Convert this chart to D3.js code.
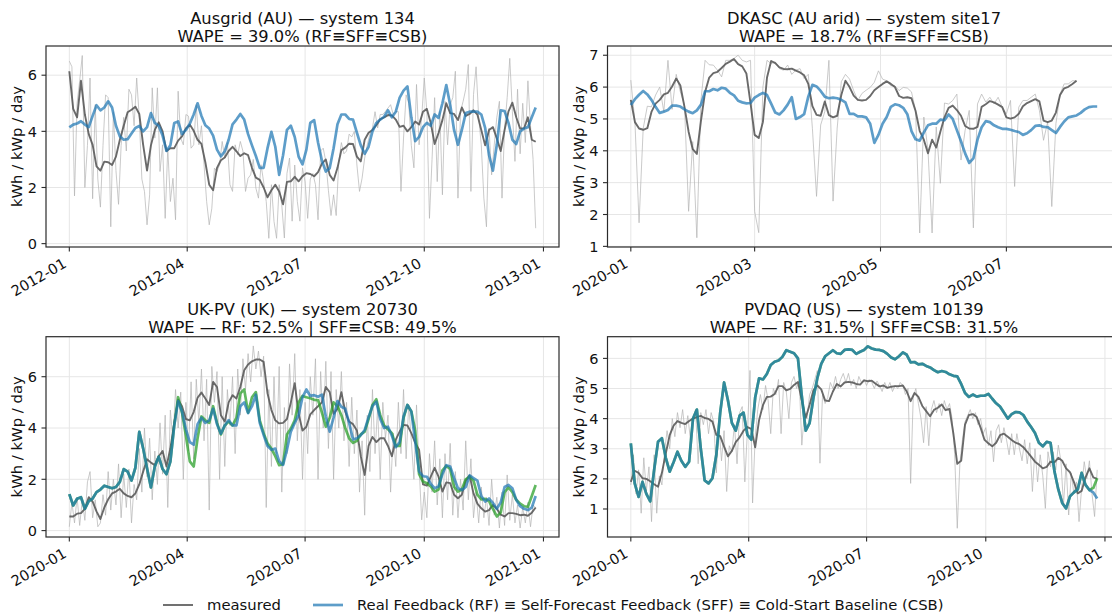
<!DOCTYPE html>
<html>
<head>
<meta charset="utf-8">
<script src="https://cdn.jsdelivr.net/npm/d3@7"></script>
<style>
  html, body { margin: 0; padding: 0; background: #fff; }
  svg { display: block; font-family: "DejaVu Sans", "Noto Sans", sans-serif; }
</style>
</head>
<body>
<svg id="chart" width="1112" height="616"></svg>
<script>
// ---------------------------------------------------------------
// Daily PV yield (kWh / kWp / day). Raw readings every 2 days,
// rolling-mean measured and forecasts every 3 days (DKASC: 2 days).
// ---------------------------------------------------------------

// Ausgrid (AU) — system 134, 2012
const ausgridStart = "2012-01-01";
const ausgridRaw = [
  6.5,6.3,1.7,5.0,5.8,6.7,2.0,3.5,5.9,1.6,
  4.95,2.3,1.3,3.5,5.3,5.2,0.6,4.7,2.6,1.4,
  3.5,4.5,3.3,5.5,5.3,4.2,5.9,4.5,2.3,1.86,
  0.67,1.74,5.55,3.76,5.55,2.57,3.52,0.9,3.4,1.5,
  2.33,0.85,5.43,3.76,3.52,4.6,4.54,3.4,3.52,4.95,
  3.52,4.2,2.81,1.5,0.67,1.26,2.69,2.57,2.81,3.64,
  3.05,3.6,2.1,1.86,3.52,3.17,3.64,3.3,1.86,2.33,
  2.45,3.0,1.98,1.62,2.81,2.2,1.5,0.19,2.1,0.79,
  0.19,2.1,1.38,0.2,2.5,3.05,0.8,2.8,1.5,0.8,
  2.7,2.2,0.9,2.3,2.5,2.1,0.85,3.3,3.4,2.93,
  1.9,1.0,1.74,1.0,2.9,3.6,3.2,3.3,3.9,3.8,
  4.0,2.8,1.86,2.33,3.05,3.52,3.9,4.12,4.7,4.12,
  4.6,4.6,4.71,4.83,4.95,4.6,4.71,4.7,1.86,3.76,
  5.3,5.0,3.5,2.7,5.67,3.52,4.5,5.9,4.71,0.9,
  3.0,5.2,2.21,4.71,1.74,5.07,3.52,4.95,5.2,6.14,
  1.62,4.71,5.07,5.5,6.38,1.86,5.31,6.3,4.5,3.52,
  1.62,0.6,4.12,2.45,3.52,4.5,5.07,1.62,4.12,5.2,
  6.6,4.71,2.93,5.5,3.2,5.0,3.6,5.8,4.2,3.0,
  0.55
];
const ausgridMeasured = [
  6.14,4.8,4.5,5.8,4.6,3.9,3.52,2.75,2.6,2.92,
  2.9,2.8,3.1,3.7,4.2,4.68,4.77,4.88,4.62,3.52,
  2.6,3.5,4.05,4.32,4.0,3.3,3.4,3.4,3.67,3.82,
  4.1,4.24,4.02,3.7,3.55,2.9,2.1,1.9,2.7,2.97,
  3.07,3.3,3.45,3.29,3.12,3.22,3.15,2.7,2.35,2.27,
  2.0,1.65,1.9,2.1,1.86,1.4,2.2,2.22,2.38,2.22,
  2.4,2.51,2.48,2.4,2.55,2.85,3.0,2.45,2.25,2.7,
  3.33,3.42,3.56,3.55,3.1,2.93,3.7,3.95,4.05,4.22,
  4.43,4.5,4.58,4.57,4.42,4.16,4.2,4.0,4.15,4.35,
  4.24,4.7,4.8,4.3,3.55,3.94,4.4,5.0,4.65,4.62,
  4.4,4.85,4.55,4.62,4.75,4.6,4.05,3.5,4.05,4.15,
  3.75,3.3,4.05,4.71,5.02,4.5,4.1,4.1,4.5,3.7,
  3.63
];
const ausgridForecast = [
  4.14,4.24,4.28,4.36,4.24,4.15,4.55,4.93,4.75,4.85,
  5.07,4.85,4.2,3.82,3.7,3.72,3.92,4.12,4.19,4.0,
  4.15,4.65,4.3,4.2,3.85,3.3,3.5,4.3,4.35,3.9,
  4.05,4.27,4.6,5.0,4.55,4.22,4.1,3.85,3.35,3.11,
  3.29,3.7,4.25,4.42,4.62,4.42,3.9,3.5,3.12,2.7,
  2.7,3.4,3.98,3.45,2.45,3.15,4.05,4.2,3.8,3.1,
  2.82,3.35,4.3,4.4,3.6,2.95,2.57,2.69,3.4,4.25,
  4.6,4.6,4.44,4.42,3.95,3.5,3.2,3.45,4.0,4.3,
  4.42,4.52,4.75,4.5,4.7,5.2,5.45,5.6,4.5,3.65,
  3.8,4.15,4.3,4.2,4.6,4.48,5.0,5.65,4.95,4.05,
  3.52,4.05,4.65,4.7,4.7,4.7,4.6,4.12,3.15,2.6,
  3.52,4.75,4.72,4.3,3.7,3.55,4.0,4.1,4.15,4.5,
  4.85
];
const ausgridXTicks = ["2012-01-01", "2012-04-01", "2012-07-01", "2012-10-01", "2013-01-01"];
const ausgridYTicks = [0, 2, 4, 6];

// DKASC (AU arid) — system site17, 2020
const dkascStart = "2020-01-01";
const dkascRaw = [
  6.22,4.9,1.74,4.7,5.4,5.38,5.75,6.0,5.23,6.84,
  5.3,6.4,5.85,5.44,2.1,4.29,1.27,5.6,6.84,6.7,
  6.69,6.53,6.32,6.84,6.84,6.9,7.0,6.84,6.79,6.84,
  2.1,1.43,6.0,6.84,6.74,6.79,6.58,6.53,6.69,6.4,
  6.53,6.58,6.27,6.4,4.7,2.57,4.81,5.23,6.84,2.42,
  4.71,6.17,6.4,6.25,5.89,5.58,5.8,5.9,5.99,6.15,
  6.51,6.25,6.2,6.04,6.04,5.89,5.99,5.97,5.85,5.27,
  1.42,5.06,4.02,1.42,4.75,2.98,5.5,5.47,5.58,5.78,
  3.71,4.64,5.27,1.58,5.47,5.78,5.53,5.68,5.47,5.68,
  5.37,5.16,5.58,2.88,5.37,5.58,5.58,5.68,5.78,5.27,
  4.33,4.9,2.25,4.85,5.78,6.1,6.1,6.2,6.2
];
const dkascMeasured = [
  5.6,4.9,4.7,4.66,4.71,5.22,5.48,5.6,5.77,5.82,
  6.02,6.27,6.05,5.38,4.6,4.05,3.9,4.95,5.85,6.3,
  6.44,6.48,6.6,6.73,6.8,6.88,6.72,6.65,6.43,5.5,
  4.5,4.4,4.9,6.3,6.82,6.75,6.62,6.57,6.56,6.58,
  6.52,6.46,6.37,6.1,5.4,5.13,5.1,5.55,5.12,5.05,
  5.1,5.75,6.2,6.0,5.73,5.6,5.58,5.6,5.72,5.9,
  6.0,6.1,6.18,6.1,6.0,5.72,5.66,5.68,5.65,5.25,
  4.62,4.35,3.92,4.35,4.1,4.6,5.05,5.35,5.42,5.28,
  5.1,4.78,4.7,4.69,4.75,5.38,5.46,5.56,5.52,5.45,
  5.37,5.05,5.01,5.05,5.16,5.4,5.5,5.56,5.62,5.55,
  4.95,4.9,4.95,5.2,5.75,5.96,6.01,6.1,6.2
];
const dkascForecast = [
  5.44,5.62,5.76,5.88,5.77,5.6,5.38,5.19,5.23,5.28,
  5.42,5.42,5.39,5.3,5.23,5.18,5.27,5.45,5.87,5.87,
  5.94,5.9,5.98,5.95,5.82,5.74,5.57,5.52,5.49,5.5,
  5.67,5.75,5.82,5.75,5.48,5.2,5.14,5.27,5.45,5.68,
  5.0,5.06,5.15,5.7,6.07,6.02,5.88,5.7,5.65,5.67,
  5.65,5.6,5.52,5.16,5.16,5.08,5.08,5.05,4.85,4.25,
  4.5,4.85,5.06,5.38,5.46,5.43,5.35,5.15,4.62,4.36,
  4.32,4.58,4.8,4.85,4.85,4.98,4.96,5.14,5.0,4.65,
  4.3,3.92,3.62,3.76,4.35,4.74,4.93,4.9,4.8,4.74,
  4.69,4.69,4.66,4.62,4.59,4.5,4.55,4.65,4.78,4.8,
  4.75,4.74,4.65,4.56,4.75,4.92,5.05,5.08,5.11,5.19,
  5.3,5.37,5.39,5.39
];
const dkascXTicks = ["2020-01-01", "2020-03-01", "2020-05-01", "2020-07-01"];
const dkascYTicks = [1, 2, 3, 4, 5, 6, 7];

// UK-PV (UK) — system 20730, 2020
const ukpvStart = "2020-01-01";
const ukpvRaw = [
  0.15,1.1,0.3,1.3,0.2,1.2,0.4,1.9,2.3,0.5,
  1.2,0.15,0.3,1.4,0.6,2.3,0.8,2.0,1.0,2.6,
  0.5,2.2,0.9,2.4,0.3,1.8,1.2,3.2,1.5,4.0,
  2.1,3.6,1.2,3.1,1.8,4.2,2.2,4.5,0.9,4.7,
  3.5,5.5,4.0,5.4,2.0,5.0,3.1,5.8,2.8,5.9,
  4.2,6.3,3.5,5.9,0.8,6.4,5.0,6.2,2.0,6.0,
  2.5,5.5,4.1,6.0,3.0,6.3,4.5,6.7,5.5,6.9,
  5.8,7.2,6.3,7.0,6.0,6.8,0.9,5.5,2.5,6.0,
  3.0,6.4,1.5,4.8,3.0,6.5,4.5,6.9,3.5,5.5,
  2.0,5.0,3.0,6.0,4.5,6.7,2.0,6.2,4.0,6.6,
  3.2,6.2,2.0,5.5,4.0,6.2,3.5,5.0,2.5,5.2,
  3.0,4.7,1.5,3.5,0.6,4.5,2.3,5.5,3.0,4.8,
  2.0,5.0,3.6,4.5,1.5,3.8,2.5,5.0,3.0,5.5,
  2.8,4.9,3.5,2.0,4.9,2.5,0.42,1.5,0.5,3.0,
  1.5,3.5,1.0,2.8,0.5,3.0,1.2,3.4,0.6,2.3,
  0.5,2.0,0.8,3.5,1.2,2.8,0.5,1.5,0.3,1.7,
  0.5,1.3,0.2,2.0,0.6,1.3,0.1,1.5,0.2,2.17,
  0.4,1.4,0.3,1.0,0.1,0.9,0.3,1.1,0.15,1.0,
  0.9
];
const ukpvMeasured = [
  0.55,0.55,0.66,0.68,0.85,1.3,1.13,0.75,0.45,0.9,
  1.22,1.45,1.52,1.63,1.45,1.35,1.3,1.45,1.8,2.3,
  2.78,2.65,2.55,2.9,3.1,2.5,3.2,4.2,5.1,4.85,
  4.35,4.3,4.62,5.18,5.38,5.15,4.9,5.8,5.6,4.5,
  4.25,5.0,5.28,5.15,5.6,6.25,6.48,6.6,6.67,6.67,
  6.58,5.35,4.7,4.3,4.18,4.2,4.35,5.0,5.75,4.55,
  3.9,4.05,4.53,4.7,4.85,5.0,5.6,5.4,4.55,4.75,
  5.4,4.64,4.25,4.15,3.9,2.9,2.17,3.3,3.65,3.45,
  3.6,3.6,3.3,2.9,3.55,3.86,4.12,4.1,3.8,3.42,
  3.15,1.8,1.75,2.1,2.45,2.1,1.52,1.88,1.85,1.4,
  1.26,1.4,1.95,2.15,1.45,1.05,0.87,0.74,0.8,1.0,
  0.85,0.62,0.55,0.68,0.68,0.65,0.6,0.62,0.58,0.7,
  0.9
];
// Real Feedback (RF)
const ukpvRF = [
  1.42,0.98,1.24,1.3,0.85,1.15,1.25,1.5,1.6,1.75,
  1.7,1.65,1.7,1.9,2.4,2.3,1.95,2.45,3.85,3.2,
  2.43,1.68,2.5,2.88,2.4,2.2,2.69,4.1,5.05,4.64,
  3.95,3.45,3.35,4.15,4.4,4.2,4.3,4.75,4.15,3.78,
  4.1,4.31,4.1,4.1,4.85,5.0,4.58,4.85,5.3,4.2,
  3.73,3.3,3.15,3.2,2.7,2.56,3.15,3.86,4.2,4.5,
  5.2,5.5,5.25,5.28,5.22,5.3,4.45,3.86,4.4,5.05,
  4.83,4.75,4.2,3.55,3.6,3.72,3.92,4.42,4.85,5.03,
  4.35,4.0,4.05,3.7,3.25,3.45,4.45,4.9,4.65,3.47,
  2.3,2.12,2.1,1.82,1.65,1.72,2.2,2.55,2.5,2.05,
  1.65,1.58,1.7,2.15,2.05,1.95,1.35,1.13,1.25,1.08,
  0.85,1.1,1.7,1.78,1.65,1.2,0.95,0.85,0.8,0.9,
  1.35
];
// Self-Forecast Feedback (SFF) ≡ Cold-Start Baseline (CSB)
const ukpvSFF = [
  1.42,0.98,1.24,1.3,0.85,1.15,1.25,1.5,1.6,1.75,
  1.7,1.65,1.7,1.9,2.4,2.3,1.95,2.45,3.85,3.2,
  2.43,1.68,2.5,2.88,2.4,2.2,2.69,4.1,5.2,4.6,
  3.7,2.7,2.5,3.6,4.45,4.3,4.2,4.85,4.2,3.75,
  4.1,4.25,4.1,4.4,5.35,5.5,4.6,5.2,5.4,4.3,
  3.8,3.4,3.2,2.9,2.55,2.6,3.75,3.98,4.3,5.0,
  5.25,5.2,5.16,5.1,5.09,4.6,4.05,4.4,5.0,4.85,
  4.5,4.0,3.6,3.42,3.5,3.75,3.86,4.35,4.9,5.12,
  4.5,4.1,3.95,3.8,3.3,3.3,4.4,4.9,4.65,3.9,
  2.2,1.91,1.85,1.72,1.52,1.6,2.35,2.52,2.4,1.7,
  1.52,1.6,2.0,2.1,1.95,1.4,1.22,1.24,1.15,0.85,
  0.55,0.7,1.5,1.68,1.5,1.2,1.05,0.95,0.93,1.35,
  1.78
];
const ukpvXTicks = ["2020-01-01", "2020-04-01", "2020-07-01", "2020-10-01", "2021-01-01"];
const ukpvYTicks = [0, 2, 4, 6];

// PVDAQ (US) — system 10139, 2020
const pvdaqStart = "2020-01-01";
const pvdaqRaw = [
  1.8,2.8,1.5,2.3,0.86,2.7,1.6,2.4,0.58,2.8,
  0.86,2.1,1.8,2.9,3.6,3.0,4.0,3.4,4.2,3.7,
  4.3,3.5,4.1,3.3,4.0,4.3,2.5,4.2,3.8,4.3,
  3.5,4.2,3.9,2.2,3.8,2.6,3.6,1.58,3.1,2.9,
  3.8,2.5,4.2,4.4,1.9,3.6,5.6,1.2,3.4,4.3,
  4.8,4.3,5.1,4.6,3.5,5.0,4.8,5.3,3.5,5.2,
  4.9,4.0,5.2,5.4,5.0,5.3,3.12,4.2,4.0,4.8,
  5.0,5.3,5.6,2.52,4.8,4.5,4.7,5.2,5.0,5.4,
  5.0,5.3,5.5,5.2,5.5,5.1,5.3,5.0,5.4,5.2,
  5.3,5.1,5.3,5.2,5.0,5.25,5.1,4.9,5.2,5.0,
  5.2,4.9,5.1,5.0,5.2,5.1,4.8,5.0,1.85,4.7,
  5.0,4.5,4.0,3.2,4.4,3.1,4.3,4.6,4.2,4.5,
  4.1,4.6,4.3,4.5,4.0,2.8,0.36,2.5,3.3,3.9,
  4.1,4.3,4.0,4.2,3.8,4.0,3.5,3.7,3.1,3.6,
  2.57,3.6,3.8,3.2,3.7,3.3,2.8,3.5,2.8,3.5,
  3.0,2.6,3.3,2.5,3.2,1.58,3.0,1.9,2.8,2.1,
  1.02,2.9,2.4,2.9,2.3,3.12,2.6,1.13,2.5,0.8,
  2.2,1.5,1.9,0.58,1.7,2.57,2.0,2.6,1.5,0.75,
  2.3
];
const pvdaqMeasured = [
  1.9,2.27,2.2,2.02,2.0,1.92,1.82,1.74,2.2,2.85,
  3.45,3.77,3.92,3.86,3.82,3.92,4.0,4.05,4.09,4.02,
  3.99,3.9,3.46,3.42,3.07,2.75,2.93,3.22,3.38,3.6,
  3.72,3.66,3.05,3.95,4.45,4.72,4.73,4.82,5.08,5.08,
  4.94,4.99,5.12,5.22,4.6,4.03,4.45,4.95,5.1,4.97,
  4.6,4.58,4.9,5.15,5.07,5.2,5.22,5.2,5.15,5.13,
  5.27,5.24,5.26,5.16,5.07,5.1,5.02,5.06,5.08,5.08,
  5.1,4.9,4.58,4.85,4.72,4.42,4.25,4.08,4.29,4.36,
  4.47,4.28,4.32,3.5,2.5,2.6,3.8,4.12,4.15,4.05,
  3.7,3.3,3.18,3.08,3.2,3.45,3.5,3.4,3.29,3.2,
  3.15,3.05,2.9,2.74,2.57,2.47,2.35,2.4,2.57,2.55,
  2.7,2.6,2.35,2.22,1.9,1.52,1.6,2.05,2.35,2.05,
  2.0
];
const pvdaqRF = [
  3.18,1.85,1.4,1.9,1.5,1.25,2.3,3.23,3.35,2.7,
  2.24,2.55,2.9,2.6,2.4,2.57,4.0,4.3,3.01,1.95,
  1.85,2.02,2.8,4.2,5.2,4.6,3.86,3.6,4.1,4.2,
  3.46,3.3,4.7,5.34,5.3,5.48,5.78,5.89,5.93,6.05,
  6.27,6.22,6.17,6.0,4.75,3.6,3.85,4.7,5.35,5.82,
  6.07,6.17,6.27,6.17,6.15,6.28,6.3,6.28,6.15,6.22,
  6.28,6.4,6.33,6.29,6.28,6.24,6.15,6.03,5.97,6.07,
  6.2,6.12,5.87,5.88,5.8,5.82,5.75,5.7,5.61,5.54,
  5.58,5.55,5.47,5.42,5.4,5.15,4.85,4.72,4.8,4.73,
  4.76,4.76,4.82,4.66,4.51,4.4,4.2,4.0,4.15,4.22,
  4.21,4.12,3.9,3.72,3.52,3.2,3.08,3.23,3.2,2.25,
  1.65,1.2,1.02,1.42,1.55,1.65,2.2,1.8,1.63,1.55,
  1.35
];
const pvdaqSFF = [
  3.18,1.85,1.4,1.9,1.5,1.25,2.3,3.23,3.35,2.7,
  2.24,2.55,2.9,2.6,2.4,2.57,4.0,4.3,3.01,1.95,
  1.85,2.02,2.8,4.2,5.2,4.6,3.86,3.6,4.1,4.2,
  3.46,3.3,4.7,5.34,5.3,5.48,5.78,5.89,5.93,6.05,
  6.27,6.22,6.17,6.0,4.75,3.6,3.85,4.7,5.35,5.82,
  6.07,6.17,6.27,6.17,6.15,6.28,6.3,6.28,6.15,6.22,
  6.28,6.4,6.33,6.29,6.28,6.24,6.15,6.03,5.97,6.07,
  6.2,6.12,5.87,5.88,5.8,5.82,5.75,5.7,5.61,5.54,
  5.58,5.55,5.47,5.42,5.4,5.15,4.85,4.72,4.8,4.73,
  4.76,4.76,4.82,4.66,4.51,4.4,4.2,4.0,4.15,4.22,
  4.21,4.12,3.9,3.72,3.52,3.2,3.08,3.23,3.2,2.25,
  1.65,1.2,1.02,1.42,1.55,1.65,2.2,1.8,1.63,1.7,
  2.02
];
const pvdaqXTicks = ["2020-01-01", "2020-04-01", "2020-07-01", "2020-10-01", "2021-01-01"];
const pvdaqYTicks = [1, 2, 3, 4, 5, 6];

// ---------------------------------------------------------------
// Layout and styling
// ---------------------------------------------------------------
const COLORS = {
  raw: "#b4b4b4",
  measured: "#5a5a5a",
  rf: "#1f77b4",
  sff: "#2ca02c",
  grid: "#e6e6e6",
  spine: "#2b2b2b",
  text: "#111"
};
const FONT = { title: 16.3, label: 14.8, tick: 14.5, legend: 14.8 };

const panels = [
  {
    titles: ["Ausgrid (AU) — system 134", "WAPE = 39.0% (RF≡SFF≡CSB)"],
    start: ausgridStart,
    raw: { values: ausgridRaw, step: 2 },
    measured: { values: ausgridMeasured, step: 3 },
    rf: { values: ausgridForecast, step: 3 },
    sff: null,
    xTicks: ausgridXTicks, yTicks: ausgridYTicks, yDomain: [-0.12, 7.04],
    box: { x: 46, y: 46, w: 513, h: 201 }
  },
  {
    titles: ["DKASC (AU arid) — system site17", "WAPE = 18.7% (RF≡SFF≡CSB)"],
    start: dkascStart,
    raw: { values: dkascRaw, step: 2 },
    measured: { values: dkascMeasured, step: 2 },
    rf: { values: dkascForecast, step: 2 },
    sff: null,
    xTicks: dkascXTicks, yTicks: dkascYTicks, yDomain: [0.98, 7.29],
    box: { x: 607.5, y: 46, w: 513, h: 201 }
  },
  {
    titles: ["UK-PV (UK) — system 20730", "WAPE — RF: 52.5% | SFF≡CSB: 49.5%"],
    start: ukpvStart,
    raw: { values: ukpvRaw, step: 2 },
    measured: { values: ukpvMeasured, step: 3 },
    rf: { values: ukpvRF, step: 3 },
    sff: { values: ukpvSFF, step: 3 },
    xTicks: ukpvXTicks, yTicks: ukpvYTicks, yDomain: [-0.25, 7.56],
    box: { x: 46, y: 336.7, w: 513, h: 200.3 }
  },
  {
    titles: ["PVDAQ (US) — system 10139", "WAPE — RF: 31.5% | SFF≡CSB: 31.5%"],
    start: pvdaqStart,
    raw: { values: pvdaqRaw, step: 2 },
    measured: { values: pvdaqMeasured, step: 3 },
    rf: { values: pvdaqRF, step: 3 },
    sff: { values: pvdaqSFF, step: 3 },
    xTicks: pvdaqXTicks, yTicks: pvdaqYTicks, yDomain: [0.07, 6.72],
    box: { x: 607.5, y: 336.7, w: 513, h: 200.3 }
  }
];

const DAY = 864e5;
const parseDay = d3.utcParse("%Y-%m-%d");
const fmtMonth = d3.utcFormat("%Y-%m");

// turn an evenly spaced series into dated points
function toPoints(start, series) {
  const t0 = parseDay(start).getTime();
  return series.values.map((v, i) => ({ date: new Date(t0 + i * series.step * DAY), value: v }));
}

const svg = d3.select("#chart");
svg.append("rect").attr("width", 1112).attr("height", 616).attr("fill", "#fff");

panels.forEach((p, idx) => {
  const { x: bx, y: by, w, h } = p.box;
  const raw = toPoints(p.start, p.raw);
  const measured = toPoints(p.start, p.measured);
  const rf = toPoints(p.start, p.rf);
  const sff = p.sff ? toPoints(p.start, p.sff) : null;

  // x extent with 5% padding on both sides of the data span
  const all = raw.concat(measured, rf, sff || []);
  const [tMin, tMax] = d3.extent(all, d => d.date.getTime());
  const pad = (tMax - tMin) * 0.05;
  const x = d3.scaleUtc().domain([new Date(tMin - pad), new Date(tMax + pad)]).range([0, w]);
  const y = d3.scaleLinear().domain(p.yDomain).range([h, 0]);

  const g = svg.append("g").attr("transform", `translate(${bx},${by})`);

  const clipId = `clip-${idx}`;
  g.append("clipPath").attr("id", clipId)
    .append("rect").attr("x", 0).attr("y", 0).attr("width", w).attr("height", h);

  const xTickDates = p.xTicks.map(parseDay);

  // grid
  const grid = g.append("g").attr("clip-path", `url(#${clipId})`);
  grid.selectAll("line.gx").data(xTickDates).join("line")
    .attr("x1", d => x(d)).attr("x2", d => x(d))
    .attr("y1", 0).attr("y2", h)
    .attr("stroke", COLORS.grid).attr("stroke-width", 1);
  grid.selectAll("line.gy").data(p.yTicks).join("line")
    .attr("x1", 0).attr("x2", w)
    .attr("y1", d => y(d)).attr("y2", d => y(d))
    .attr("stroke", COLORS.grid).attr("stroke-width", 1);

  const line = d3.line().x(d => x(d.date)).y(d => y(d.value));
  const plot = g.append("g").attr("clip-path", `url(#${clipId})`);

  plot.append("path").datum(raw).attr("d", line)
    .attr("fill", "none").attr("stroke", COLORS.raw).attr("stroke-opacity", 0.7)
    .attr("stroke-width", 1).attr("stroke-linejoin", "round");

  plot.append("path").datum(measured).attr("d", line)
    .attr("fill", "none").attr("stroke", COLORS.measured).attr("stroke-opacity", 0.9)
    .attr("stroke-width", 1.9).attr("stroke-linejoin", "round");

  if (sff) {
    plot.append("path").datum(sff).attr("d", line)
      .attr("fill", "none").attr("stroke", COLORS.sff).attr("stroke-opacity", 0.75)
      .attr("stroke-width", 2.7).attr("stroke-linejoin", "round");
  }
  plot.append("path").datum(rf).attr("d", line)
    .attr("fill", "none").attr("stroke", COLORS.rf).attr("stroke-opacity", 0.72)
    .attr("stroke-width", 2.7).attr("stroke-linejoin", "round");

  // spines
  g.append("rect").attr("x", 0).attr("y", 0).attr("width", w).attr("height", h)
    .attr("fill", "none").attr("stroke", COLORS.spine).attr("stroke-width", 1.2);

  // y ticks
  const yt = g.append("g");
  yt.selectAll("line").data(p.yTicks).join("line")
    .attr("x1", -4.5).attr("x2", 0)
    .attr("y1", d => y(d)).attr("y2", d => y(d))
    .attr("stroke", COLORS.spine).attr("stroke-width", 1.1);
  yt.selectAll("text").data(p.yTicks).join("text")
    .attr("x", -9).attr("y", d => y(d)).attr("dy", "0.36em")
    .attr("text-anchor", "end").attr("font-size", FONT.tick).attr("fill", COLORS.text)
    .text(d => d3.format("d")(d));

  // x ticks (rotated labels)
  const xt = g.append("g");
  xt.selectAll("line").data(xTickDates).join("line")
    .attr("x1", d => x(d)).attr("x2", d => x(d))
    .attr("y1", h).attr("y2", h + 4.5)
    .attr("stroke", COLORS.spine).attr("stroke-width", 1.1);
  xt.selectAll("text").data(xTickDates).join("text")
    .attr("transform", d => `translate(${x(d) - 1.8},${h + 19.5}) rotate(-30)`)
    .attr("text-anchor", "end").attr("font-size", FONT.tick).attr("fill", COLORS.text)
    .text(d => fmtMonth(d));

  // y label
  g.append("text")
    .attr("transform", `translate(-24,${h / 2}) rotate(-90)`)
    .attr("text-anchor", "middle").attr("font-size", FONT.label).attr("fill", COLORS.text)
    .text("kWh / kWp / day");

  // two-line title
  g.append("text").attr("x", w / 2).attr("y", -22)
    .attr("text-anchor", "middle").attr("font-size", FONT.title).attr("fill", COLORS.text)
    .text(p.titles[0]);
  g.append("text").attr("x", w / 2).attr("y", -4)
    .attr("text-anchor", "middle").attr("font-size", FONT.title).attr("fill", COLORS.text)
    .text(p.titles[1]);
});

// shared legend
const legendItems = [
  { label: "measured", color: COLORS.measured, width: 1.9, opacity: 0.9, x: 163 },
  { label: "Real Feedback (RF) ≡ Self-Forecast Feedback (SFF) ≡ Cold-Start Baseline (CSB)", color: COLORS.rf, width: 2.7, opacity: 0.72, x: 313 }
];
const legend = svg.append("g").attr("transform", "translate(0,605)");
legendItems.forEach(item => {
  legend.append("line").attr("x1", item.x).attr("x2", item.x + 30).attr("y1", 0).attr("y2", 0)
    .attr("stroke", item.color).attr("stroke-width", item.width).attr("stroke-opacity", item.opacity);
  legend.append("text").attr("x", item.x + 44).attr("y", 0).attr("dy", "0.36em")
    .attr("font-size", FONT.legend).attr("fill", COLORS.text).text(item.label);
});
</script>
</body>
</html>
